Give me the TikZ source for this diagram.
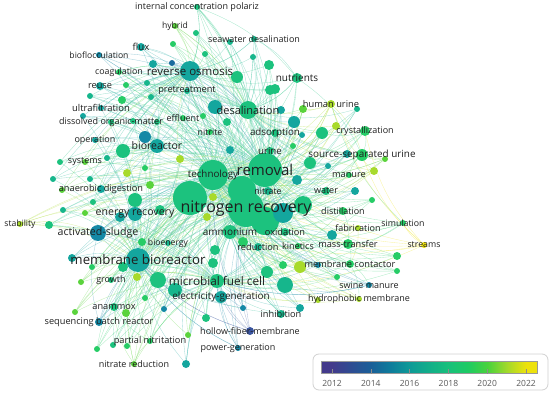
\documentclass[tikz,border=0pt]{standalone}
\usepackage{fontspec}
\setmainfont{Open Sans}
\usetikzlibrary{backgrounds}
\definecolor{c12}{HTML}{433A8B}
\definecolor{c13}{HTML}{3A55A0}
\definecolor{c14}{HTML}{1A6A9E}
\definecolor{c15}{HTML}{1489A6}
\definecolor{c16}{HTML}{14A69E}
\definecolor{c17}{HTML}{16B68C}
\definecolor{c18}{HTML}{1CC27E}
\definecolor{c19}{HTML}{26CC66}
\definecolor{c20}{HTML}{5AD33C}
\definecolor{c21}{HTML}{A8DA2B}
\definecolor{c22}{HTML}{EDE20C}
\definecolor{b12}{HTML}{433A8B}
\definecolor{b13}{HTML}{2E4C92}
\definecolor{b14}{HTML}{1A5F98}
\definecolor{b15}{HTML}{0E7C9B}
\definecolor{b16}{HTML}{0E9A97}
\definecolor{b17}{HTML}{12AE89}
\definecolor{b18}{HTML}{18C07B}
\definecolor{b19}{HTML}{1ECB63}
\definecolor{b20}{HTML}{48D23C}
\definecolor{b21}{HTML}{A2D92B}
\definecolor{b22}{HTML}{EDE20C}
\pgfdeclarehorizontalshading{vir}{100bp}{color(0bp)=(b12); color(25bp)=(b12); color(27.5bp)=(b12); color(32bp)=(b13); color(36.5bp)=(b14); color(41bp)=(b15); color(45.5bp)=(b16); color(50bp)=(b17); color(54.5bp)=(b18); color(59bp)=(b19); color(63.5bp)=(b20); color(68bp)=(b21); color(72.5bp)=(b22); color(75bp)=(b22); color(100bp)=(b22)}
\tikzset{
  dot/.style={circle, inner sep=0pt, draw=none},
  edge/.style={line width=0.35pt, opacity=0.5},
  lbl/.style={inner sep=0pt, text=black!88},
  tick/.style={draw=black!45, line width=0.6pt},
  yr/.style={inner sep=0pt, text=black!65, font=\fontsize{8.5}{8.5}\selectfont}
}
\newcommand\kw[5]{\node[dot, minimum size=#4*2pt, fill=#5] (#1) at (#2,#3) {};\colorlet{col#1}{#5!75!white}}
\newcommand\lb[3]{\node[lbl, font=\fontsize{#2}{#2}\selectfont] (#1-l) at (#1) {#3};}
\begin{document}
\begin{tikzpicture}[x=1pt,y=-1pt]
\useasboundingbox (0,0) rectangle (550,396);
% big unlabeled
\kw{u88}{190}{198}{17}{c18}
\kw{u89}{242}{190}{14}{c18}
\kw{u90}{265}{221}{14}{c18}
\kw{u91}{283}{213}{10}{c16}
\kw{u92}{303}{205}{9}{c18}
% hubs
\kw{tech}{213}{175}{15}{c18}
\kw{rem}{265}{170}{17}{c18}
\kw{nr}{246}{209}{18}{c18}
\kw{mbr}{138}{260}{12}{c16}
\kw{ro}{190}{71}{10}{c16}
\kw{desal}{248}{110}{9}{c18}
\kw{mfc}{217}{281}{7}{c18}
\kw{as}{98}{233}{8}{c15}
\kw{er}{135}{214}{7}{c16}
\kw{bio}{157}{146}{7}{c16}
\kw{amm}{230}{232}{7}{c18}
% other unlabeled
\kw{u1}{172}{63}{3}{c14}
\kw{u2}{153}{64}{4}{c16}
\kw{u3}{196}{33}{3}{c18}
\kw{u4}{173}{44}{3}{c19}
\kw{u5}{205}{54}{3}{c18}
\kw{u6}{253}{57}{3}{c17}
\kw{u7}{269}{65}{5}{c18}
\kw{u8}{237}{77}{6}{c18}
\kw{u9}{147}{83}{3}{c17}
\kw{u10}{126}{85}{3}{c19}
\kw{u11}{90}{96}{3}{c17}
\kw{u12}{122}{100}{4}{c19}
\kw{u13}{151}{97}{3}{c17}
\kw{u14}{83}{116}{3}{c16}
\kw{u15}{133}{121}{3}{c18}
\kw{u16}{157}{122}{3}{c18}
\kw{u17}{203}{116}{3}{c19}
\kw{u18}{227}{122}{4}{c18}
\kw{u19}{270}{90}{5}{c18}
\kw{u20}{215}{107}{7}{c16}
\kw{u21}{60}{162}{3}{c18}
\kw{u22}{53}{179}{3}{c17}
\kw{u23}{90}{179}{3}{c17}
\kw{u24}{107}{158}{3}{c17}
\kw{u25}{127}{173}{4}{c21}
\kw{u26}{145}{168}{3}{c19}
\kw{u27}{150}{185}{4}{c20}
\kw{u28}{180}{159}{4}{c21}
\kw{u29}{230}{150}{4}{c16}
\kw{u30}{62}{190}{3}{c20}
\kw{u31}{123}{151}{7}{c18}
\kw{u32}{145}{137}{6}{c15}
\kw{u33}{275}{89}{5}{c18}
\kw{u34}{281}{110}{4}{c16}
\kw{u35}{294}{122}{6}{c16}
\kw{u36}{302}{135}{3}{c16}
\kw{u37}{322}{133}{6}{c18}
\kw{u38}{357}{109}{3}{c17}
\kw{u39}{293}{146}{3}{c19}
\kw{u40}{310}{163}{6}{c18}
\kw{u41}{328}{166}{3}{c16}
\kw{u42}{297}{180}{5}{c16}
\kw{u43}{355}{191}{4}{c16}
\kw{u44}{385}{159}{3}{c20}
\kw{u45}{374}{171}{4}{c21}
\kw{u46}{336}{126}{4}{c21}
\kw{u47}{303}{109}{4}{c20}
\kw{u48}{332}{235}{5}{c16}
\kw{u49}{283}{265}{4}{c19}
\kw{u50}{285}{285}{8}{c17}
\kw{u51}{300}{267}{6}{c21}
\kw{u52}{318}{265}{3}{c15}
\kw{u53}{337}{277}{3}{c19}
\kw{u54}{397}{256}{4}{c19}
\kw{u55}{397}{271}{3}{c19}
\kw{u56}{300}{308}{4}{c16}
\kw{u57}{318}{300}{3}{c21}
\kw{u58}{372}{200}{3}{c19}
\kw{u59}{63}{210}{3}{c17}
\kw{u60}{49}{225}{4}{c18}
\kw{u61}{85}{213}{3}{c20}
\kw{u62}{72}{258}{4}{c16}
\kw{u63}{92}{267}{3}{c19}
\kw{u64}{81}{282}{3}{c20}
\kw{u65}{75}{312}{3}{c20}
\kw{u66}{145}{298}{3}{c19}
\kw{u67}{137}{277}{4}{c21}
\kw{u68}{164}{309}{3}{c15}
\kw{u69}{126}{313}{4}{c20}
\kw{u70}{113}{345}{3}{c18}
\kw{u71}{127}{346}{3}{c19}
\kw{u72}{97}{349}{3}{c19}
\kw{u73}{188}{335}{3}{c20}
\kw{u74}{206}{318}{4}{c18}
\kw{u75}{186}{364}{4}{c16}
\kw{u76}{207}{217}{4}{c21}
\kw{u77}{243}{242}{5}{c19}
\kw{u78}{215}{250}{5}{c18}
\kw{u79}{123}{267}{5}{c18}
\kw{u80}{120}{217}{5}{c16}
\kw{u81}{160}{210}{5}{c18}
\kw{u82}{142}{242}{4}{c19}
\kw{u83}{158}{280}{8}{c18}
\kw{u84}{175}{290}{7}{c17}
\kw{u85}{243}{308}{3}{c15}
\kw{u86}{213}{263}{5}{c18}
\kw{u87}{267}{272}{6}{c18}
\kw{u94}{213}{197}{4}{c21}
\kw{u98}{135}{200}{7}{c18}
\kw{u99}{93}{202}{3}{c18}
\kw{u101}{347}{154}{4}{c16}
\kw{u102}{230}{42}{3}{c17}
% labeled small
\kw{ox}{285}{232}{4}{c18}
\kw{red}{258}{247}{4}{c17}
\kw{kin}{298}{246}{3}{c19}
\kw{eg}{221}{297}{6}{c16}
\kw{ssu}{362}{155}{6}{c19}
\kw{mt}{348}{244}{5}{c19}
\kw{mc}{350}{264}{4}{c19}
\kw{inh}{281}{314}{4}{c17}
\kw{hfm}{250}{331}{4}{c13}
\kw{pg}{238}{348}{3}{c15}
\kw{nred}{134}{364}{3}{c20}
\kw{pn}{150}{341}{3}{c19}
\kw{sbr}{99}{322}{4}{c15}
\kw{anx}{114}{307}{4}{c18}
\kw{gr}{111}{280}{3}{c18}
\kw{bioe}{168}{243}{3}{c17}
\kw{stab}{20}{224}{3}{c21}
\kw{dist}{343}{211}{4}{c19}
\kw{fab}{358}{228}{3}{c21}
\kw{sim}{403}{223}{3}{c19}
\kw{strm}{424}{245}{3}{c22}
\kw{swm}{369}{285}{3}{c15}
\kw{hm}{359}{299}{3}{c21}
\kw{water}{326}{191}{4}{c18}
\kw{man}{349}{175}{3}{c19}
\kw{cry}{365}{131}{5}{c19}
\kw{hu}{331}{104}{4}{c21}
\kw{nut}{297}{78}{5}{c18}
\kw{icp}{197}{7}{3}{c18}
\kw{hyb}{175}{26}{3}{c20}
\kw{swd}{254}{39}{3}{c17}
\kw{flux}{141}{47}{4}{c16}
\kw{biof}{99}{55}{3}{c15}
\kw{coag}{119}{72}{3}{c19}
\kw{reuse}{100}{86}{4}{c16}
\kw{pre}{187}{91}{3}{c17}
\kw{uf}{101}{108}{3}{c16}
\kw{dom}{111}{122}{3}{c18}
\kw{eff}{183}{118}{3}{c19}
\kw{nite}{210}{132}{3}{c19}
\kw{ads}{275}{133}{4}{c18}
\kw{op}{95}{140}{3}{c16}
\kw{sys}{85}{162}{3}{c20}
\kw{ad}{101}{189}{4}{c16}
\kw{urine}{270}{151}{4}{c18}
\kw{nitr}{268}{191}{4}{c17}
% edges
\begin{scope}[on background layer]
\foreach \a in {icp,hyb,swd,flux,biof,coag,reuse,pre,nut,u1,u2,u3,u4,u5,u6,u7,u8,u9,u10,u11,u12,u13,u19,u20,u33,u102}
  {\foreach \h in {nr,rem,ro,desal,tech} {\draw[edge,draw=col\a] (\a) to[bend left=14] (\h);}}
\foreach \a in {uf,dom,eff,nite,op,sys,ad,u14,u15,u16,u17,u18,u21,u22,u23,u24,u25,u26,u27,u28,u29,u30,u31,u32,u98,u99}
  {\foreach \h in {nr,rem,bio,mbr,ro} {\draw[edge,draw=col\a] (\a) to[bend left=14] (\h);}}
\foreach \a in {as,er,sbr,anx,gr,bioe,stab,nred,pn,u59,u60,u61,u62,u63,u64,u65,u66,u67,u68,u69,u70,u71,u72,u73,u79,u80,u81,u82,u83,u84,eg,pg,hfm,u74,u75,u85,u86}
  {\foreach \h in {nr,rem,mbr,mfc,tech} {\draw[edge,draw=col\a] (\a) to[bend left=14] (\h);}}
\foreach \a in {hu,cry,ssu,man,water,ads,urine,u34,u35,u36,u37,u38,u39,u40,u41,u42,u43,u44,u45,u46,u47,u101}
  {\foreach \h in {nr,rem,desal,amm,tech} {\draw[edge,draw=col\a] (\a) to[bend left=14] (\h);}}
\foreach \a in {mt,mc,dist,fab,sim,strm,swm,hm,ox,red,kin,inh,u48,u49,u50,u51,u52,u53,u54,u55,u56,u57,u58,u87,u91,u92}
  {\foreach \h in {nr,rem,amm,tech,mfc} {\draw[edge,draw=col\a] (\a) to[bend left=14] (\h);}}
\foreach \a in {tech,bio,mbr,mfc,ro,desal,amm,nitr,u76,u77,u78,u88,u89,u90,u94}
  {\foreach \h in {nr,rem} {\draw[edge,draw=col\a] (\a) to[bend left=14] (\h);}}
\foreach \a/\b in {rem/nr,ro/desal,ro/mbr,ro/bio,mbr/mfc,mbr/as,mbr/er,desal/tech,tech/mbr,as/er,as/bio,mfc/eg,mfc/er,
  strm/sim,strm/hu,strm/cry,strm/mt,sim/fab,sim/hu,stab/u60,stab/as,stab/er,icp/desal,icp/u8,hu/ssu,cry/ssu,man/ssu,
  mt/mc,mc/swm,mc/hm,hm/u51,swm/u50,nred/anx,nred/pn,pn/anx,sbr/anx,sbr/as,hfm/eg,pg/eg,inh/amm,dist/mt,fab/mc,
  u44/ssu,u45/hu,nut/desal,swd/ro,flux/bio,biof/bio,coag/ro,reuse/bio,uf/ro,dom/ro,hu/u47,cry/u37,ssu/u40,
  icp/ro,icp/nut,hyb/desal,swd/nut,nut/ssu,hu/rem,sim/mt,strm/ssu,swm/mfc,hfm/mbr,pg/mbr,inh/mbr,nred/mbr,pn/mfc}
  {\draw[edge,draw=col\a] (\a) to[bend left=14] (\b);}
\end{scope}
% labels
\lb{nr}{16}{nitrogen recovery}
\lb{rem}{15}{removal}
\lb{mbr}{13.2}{membrane bioreactor}
\lb{mfc}{11.8}{microbial fuel cell}
\lb{ro}{11.5}{reverse osmosis}
\lb{desal}{11}{desalination}
\lb{as}{10.6}{activated-sludge}
\lb{er}{10.6}{energy recovery}
\lb{bio}{10.5}{bioreactor}
\lb{tech}{9.8}{technology}
\lb{amm}{10}{ammonium}
\lb{ox}{9.2}{oxidation}
\lb{red}{9.2}{reduction}
\lb{kin}{9}{kinetics}
\lb{eg}{9.9}{electricity-generation}
\lb{ssu}{9.9}{source-separated urine}
\lb{mt}{9.2}{mass-transfer}
\lb{mc}{9.2}{membrane contactor}
\lb{inh}{9.2}{inhibition}
\lb{hfm}{9}{hollow-fiber-membrane}
\lb{pg}{9}{power-generation}
\lb{nred}{9}{nitrate reduction}
\lb{pn}{9.2}{partial nitritation}
\lb{sbr}{9.2}{sequencing batch reactor}
\lb{anx}{9.2}{anammox}
\lb{gr}{9}{growth}
\lb{bioe}{8.6}{bioenergy}
\lb{stab}{8.6}{stability}
\lb{dist}{9}{distillation}
\lb{fab}{9}{fabrication}
\lb{sim}{8.8}{simulation}
\lb{strm}{8.8}{streams}
\lb{swm}{9}{swine manure}
\lb{hm}{9}{hydrophobic membrane}
\lb{water}{9}{water}
\lb{man}{9.2}{manure}
\lb{cry}{9}{crystallization}
\lb{hu}{9.3}{human urine}
\lb{nut}{10}{nutrients}
\lb{icp}{9}{internal concentration polariz}
\lb{hyb}{8.6}{hybrid}
\lb{swd}{9}{seawater desalination}
\lb{flux}{9.6}{flux}
\lb{biof}{8.6}{bioflocculation}
\lb{coag}{8.8}{coagulation}
\lb{reuse}{9.2}{reuse}
\lb{pre}{9.2}{pretreatment}
\lb{uf}{9.4}{ultrafiltration}
\lb{dom}{9}{dissolved organic-matter}
\lb{eff}{9}{effluent}
\lb{nite}{8.8}{nitrite}
\lb{ads}{9.8}{adsorption}
\lb{op}{9}{operation}
\lb{sys}{9}{systems}
\lb{ad}{9.2}{anaerobic digestion}
\lb{urine}{9.7}{urine}
\lb{nitr}{8.8}{nitrate}
% legend
\node[draw=black!18, line width=0.8pt, rounded corners=6pt, fill=white, minimum width=235pt, minimum height=36pt, inner sep=0pt] (legend) at (430.5,372) {};
\node[shade, shading=vir, draw=black!40, line width=0.5pt, minimum width=216pt, minimum height=12pt, inner sep=0pt] (bar) at (429,367) {};
\foreach \yy/\xx in {2012/332,2014/370.8,2016/409.6,2018/448.4,2020/487.2,2022/526} {
  \coordinate (t\yy a) at (\xx,369);
  \coordinate (t\yy b) at (\xx,373.5);
  \draw[tick] (t\yy a) -- (t\yy b);
  \node[yr] (y\yy) at (\xx,383) {\yy};
}
\end{tikzpicture}
\end{document}
